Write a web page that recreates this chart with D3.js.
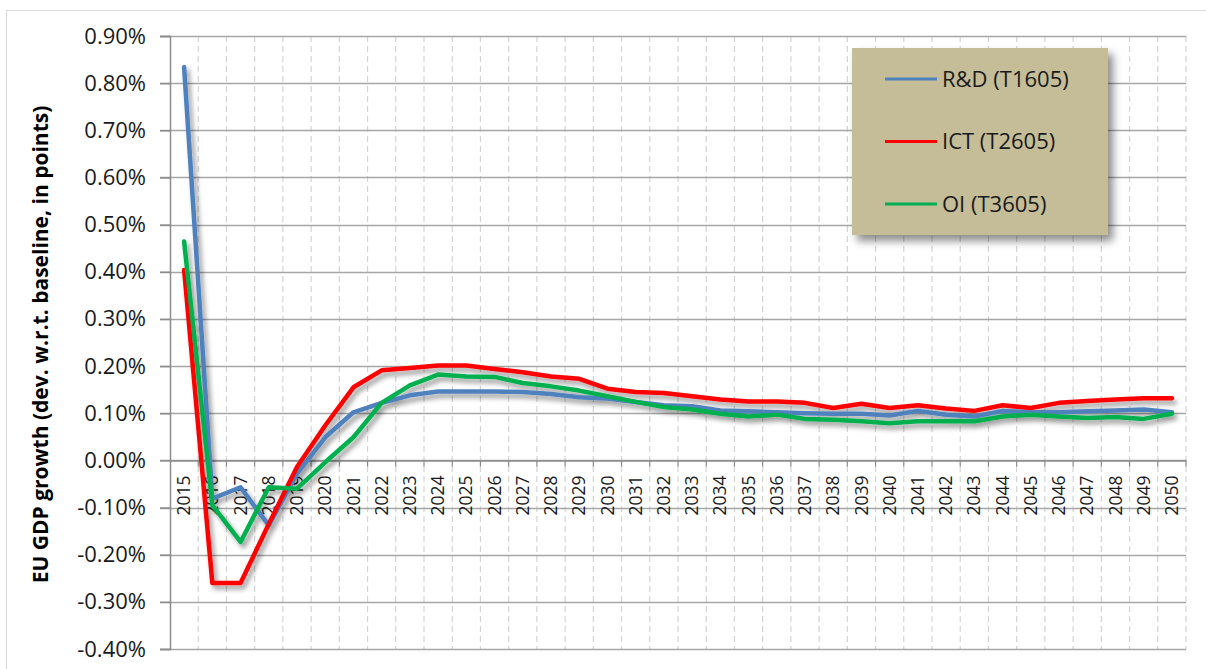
<!DOCTYPE html>
<html>
<head>
<meta charset="utf-8">
<script src="https://cdn.jsdelivr.net/npm/d3@7"></script>
<style>
  body { margin: 0; background: #fff; }
  svg { display: block; }
</style>
</head>
<body>
<script>
// categories
var years = ["2015","2016","2017","2018","2019","2020","2021","2022","2023","2024","2025","2026",
  "2027","2028","2029","2030","2031","2032","2033","2034","2035","2036","2037","2038",
  "2039","2040","2041","2042","2043","2044","2045","2046","2047","2048","2049","2050"];

// series, in % points
var rdValues = [0.834, -0.081, -0.057, -0.138, -0.028, 0.049, 0.102, 0.122, 0.138, 0.146, 0.146, 0.146,
  0.145, 0.141, 0.134, 0.131, 0.124, 0.117, 0.115, 0.106, 0.104, 0.102, 0.100, 0.099,
  0.099, 0.095, 0.105, 0.097, 0.093, 0.105, 0.102, 0.102, 0.104, 0.106, 0.108, 0.102];
var ictValues = [0.404, -0.260, -0.260, -0.135, -0.014, 0.074, 0.155, 0.191, 0.196, 0.201, 0.201, 0.194,
  0.187, 0.178, 0.173, 0.152, 0.145, 0.143, 0.136, 0.129, 0.125, 0.125, 0.122, 0.111,
  0.120, 0.111, 0.117, 0.110, 0.105, 0.117, 0.111, 0.122, 0.126, 0.129, 0.132, 0.132];
var oiValues = [0.464, -0.095, -0.173, -0.057, -0.060, -0.004, 0.049, 0.122, 0.159, 0.182, 0.178, 0.177,
  0.164, 0.157, 0.148, 0.136, 0.124, 0.113, 0.108, 0.099, 0.093, 0.097, 0.088, 0.086,
  0.083, 0.079, 0.083, 0.083, 0.083, 0.093, 0.097, 0.093, 0.090, 0.092, 0.088, 0.099];

var seriesNames = ["R&D (T1605)", "ICT (T2605)", "OI (T3605)"];
var seriesColors = ["#4f81bd", "#ff0000", "#00b050"];

var yTicks = [-0.4, -0.3, -0.2, -0.1, 0.0, 0.1, 0.2, 0.3, 0.4, 0.5, 0.6, 0.7, 0.8, 0.9];
var yTitle = "EU GDP growth (dev. w.r.t. baseline, in points)";

var width = 1206, height = 669;
// plot area (note: "top" is reserved on window, so use plot* names)
var plotLeft = 170, plotRight = 1186, plotTop = 36, plotBottom = 649;

var svg = d3.select("body").append("svg")
    .attr("width", width)
    .attr("height", height);

var defs = svg.append("defs");
var shadow = defs.append("filter").attr("id", "shadow")
    .attr("x", "-10%").attr("y", "-10%").attr("width", "130%").attr("height", "130%");
shadow.append("feDropShadow")
    .attr("dx", 3).attr("dy", 4).attr("stdDeviation", 2.5)
    .attr("flood-color", "#000").attr("flood-opacity", 0.4);
var boxShadow = defs.append("filter").attr("id", "boxshadow")
    .attr("x", "-10%").attr("y", "-10%").attr("width", "130%").attr("height", "130%");
boxShadow.append("feDropShadow")
    .attr("dx", 5).attr("dy", 6).attr("stdDeviation", 4)
    .attr("flood-color", "#000").attr("flood-opacity", 0.45);

// outer chart border (cut off at right & bottom)
svg.append("rect")
    .attr("x", 6.5).attr("y", 10.5)
    .attr("width", 1220).attr("height", 680)
    .attr("fill", "none").attr("stroke", "#d9d9d9");

var x = d3.scaleBand().domain(years).range([plotLeft, plotRight]).padding(0);
var y = d3.scaleLinear().domain([-0.4, 0.9]).range([plotBottom, plotTop]);

// vertical dashed gridlines at category boundaries
var bounds = years.map(function(d){ return x(d) + x.bandwidth(); });
svg.append("g").selectAll("line")
    .data(bounds)
    .enter().append("line")
    .attr("x1", function(d){ return d; }).attr("x2", function(d){ return d; })
    .attr("y1", plotTop).attr("y2", plotBottom)
    .attr("stroke", "#d4d4d4").attr("stroke-width", 1.2)
    .attr("stroke-dasharray", "6,4");

// horizontal gridlines
svg.append("g").selectAll("line")
    .data(yTicks)
    .enter().append("line")
    .attr("x1", plotLeft - 10).attr("x2", plotRight)
    .attr("y1", function(d){ return Math.round(y(d)) + 0.5; })
    .attr("y2", function(d){ return Math.round(y(d)) + 0.5; })
    .attr("stroke", "#a6a6a6").attr("stroke-width", 1.5);

// y axis
var yAxis = svg.append("g")
    .attr("transform", "translate(" + plotLeft + ",0)")
    .call(d3.axisLeft(y).tickValues(yTicks).tickSize(10).tickPadding(14)
      .tickFormat(function(d){ return d.toFixed(2) + "%"; }));
yAxis.select(".domain").attr("stroke", "#8c8c8c").attr("stroke-width", 1.5);
yAxis.selectAll(".tick line").attr("stroke", "#8c8c8c").attr("stroke-width", 1.5);
yAxis.selectAll("text")
    .attr("fill", "#1a1a1a")
    .style("font-family", "'Open Sans', sans-serif")
    .style("font-size", "22px");

// x axis crossing at 0
var xAxis = svg.append("g")
    .attr("transform", "translate(0," + (Math.round(y(0)) + 0.5) + ")")
    .call(d3.axisBottom(x).tickSize(0).tickPadding(0));
xAxis.select(".domain").attr("stroke", "#8c8c8c").attr("stroke-width", 1.5);
xAxis.selectAll(".tick text")
    .attr("transform", "rotate(-90)")
    .attr("x", -15).attr("y", 0).attr("dy", "0.35em")
    .style("text-anchor", "end")
    .attr("fill", "#1a1a1a")
    .style("font-family", "'Open Sans', sans-serif")
    .style("font-size", "17.5px");
// small tick marks at category boundaries
xAxis.append("g").selectAll("line")
    .data(bounds)
    .enter().append("line")
    .attr("x1", function(d){ return d; }).attr("x2", function(d){ return d; })
    .attr("y1", 0).attr("y2", 6)
    .attr("stroke", "#8c8c8c").attr("stroke-width", 1.2);

// y title
svg.append("text")
    .attr("transform", "translate(48," + ((plotTop + plotBottom) / 2 + 2) + ") rotate(-90)")
    .attr("text-anchor", "middle")
    .style("font-family", "'Open Sans', sans-serif")
    .style("font-weight", "bold")
    .style("font-size", "21px")
    .attr("fill", "#000")
    .text(yTitle);

// lines
var allSeries = [rdValues, ictValues, oiValues];
var line = d3.line()
    .x(function(d, i){ return x(years[i]) + x.bandwidth() / 2; })
    .y(function(d){ return y(d); });

svg.append("g").attr("filter", "url(#shadow)")
  .selectAll("path")
    .data(allSeries)
    .enter().append("path")
    .attr("d", line)
    .attr("fill", "none")
    .attr("stroke", function(d, i){ return seriesColors[i]; })
    .attr("stroke-width", 4.5)
    .attr("stroke-linejoin", "round")
    .attr("stroke-linecap", "round");

// legend
var legend = svg.append("g").attr("transform", "translate(852,48)");
legend.append("rect")
    .attr("width", 256).attr("height", 187)
    .attr("fill", "#c4bd97")
    .attr("filter", "url(#boxshadow)");
var item = legend.selectAll(".item")
    .data(seriesNames)
    .enter().append("g")
    .attr("transform", function(d, i){ return "translate(0," + (31 + i * 62.5) + ")"; });
item.append("line")
    .attr("x1", 33).attr("x2", 85)
    .attr("stroke", function(d, i){ return seriesColors[i]; })
    .attr("stroke-width", 3);
item.append("text")
    .attr("x", 90).attr("dy", "0.35em")
    .style("font-family", "'Open Sans', sans-serif")
    .style("font-size", "22px")
    .attr("fill", "#1a1a1a")
    .text(function(d){ return d; });
</script>
</body>
</html>
